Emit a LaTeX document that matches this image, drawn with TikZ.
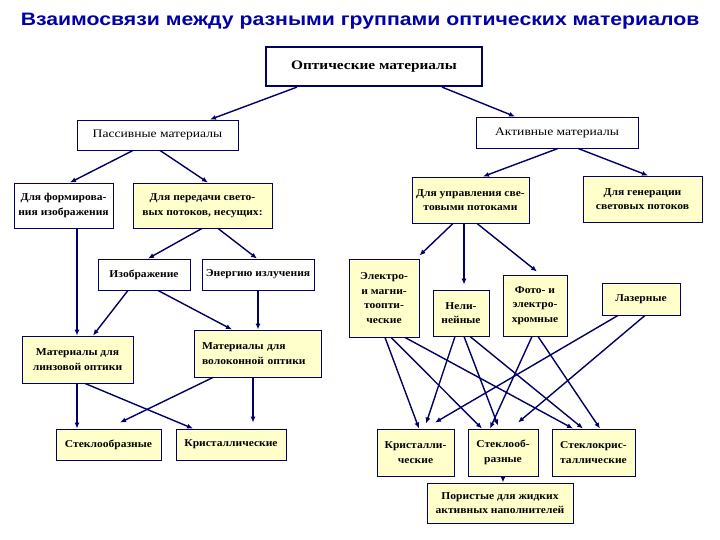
\documentclass[tikz,border=0pt]{standalone}
\usepackage{fontspec}
\setmainfont{Liberation Serif}
\setsansfont{Liberation Sans}
\newfontfamily\boxfont{Liberation Serif}[FakeStretch=1.1]
\newfontfamily\levelfont{Liberation Serif}[FakeStretch=1.18]
\newfontfamily\titlefont{Liberation Sans}[FakeStretch=1.18]
\usetikzlibrary{arrows.meta}
\definecolor{linknavy}{RGB}{0,0,102}
\definecolor{boxyellow}{RGB}{255,255,204}
\definecolor{titleblue}{RGB}{0,0,170}

\begin{document}
\begin{tikzpicture}[x=1pt, y=-1pt,
  box/.style={draw=linknavy, line width=0.9pt, fill=white, inner sep=1pt, align=center,
    font=\boxfont\bfseries\fontsize{10.5}{14.5}\selectfont},
  ybox/.style={box, fill=boxyellow},
  link/.style={linknavy, line width=1.4pt, -{Latex[length=6pt,width=5pt]}}]
  \useasboundingbox[fill=white] (0,0) rectangle (720,540);

  \node[font=\titlefont\bfseries\fontsize{18}{20}\selectfont, text=titleblue] (title) at (360,21)
    {Взаимосвязи между разными группами оптических материалов};

  % top levels
  \node[box, line width=2.2pt, minimum width=216pt, minimum height=39pt,
    font=\levelfont\bfseries\fontsize{13}{14}\selectfont] (opt) at (374,66.5) {Оптические материалы};
  \node[box, minimum width=161pt, minimum height=30pt, font=\levelfont\fontsize{11.5}{14}\selectfont]
    (pas) at (157.5,135) {Пассивные материалы};
  \node[box, minimum width=162pt, minimum height=31pt, font=\levelfont\fontsize{11.5}{14}\selectfont]
    (act) at (557,132.5) {Активные материалы};

  % passive branch
  \node[box, minimum width=99pt, minimum height=45pt] (form) at (63.5,205.5) {Для формирова-\\ния изображения};
  \node[ybox, minimum width=139pt, minimum height=45pt] (pered) at (202.5,205.5) {Для передачи свето-\\вых потоков, несущих:};
  \node[box, minimum width=92pt, minimum height=31pt] (izob) at (144,274.5) {Изображение};
  \node[box, minimum width=112pt, minimum height=31pt] (energ) at (258,274.5) {Энергию излучения};
  \node[ybox, minimum width=111pt, minimum height=47pt] (linz) at (77.5,359.5) {Материалы для\\линзовой оптики};
  \node[ybox, minimum width=127pt, minimum height=47pt, text width=111pt, align=left]
    (volok) at (257.5,353.5) {Материалы для\\волоконной оптики};
  \node[ybox, minimum width=105pt, minimum height=31pt] (steklo) at (108.5,444.5) {Стеклообразные};
  \node[ybox, minimum width=110pt, minimum height=31pt] (krist) at (231,444.5) {Кристаллические};

  % active branch
  \node[ybox, minimum width=117pt, minimum height=46pt] (upr) at (470.5,200) {Для управления све-\\товыми потоками};
  \node[ybox, minimum width=119pt, minimum height=46pt] (gen) at (642.5,199) {Для генерации\\световых потоков};
  \node[ybox, minimum width=70pt, minimum height=78pt] (elek) at (384,298) {Электро-\\и магни-\\тоопти-\\ческие};
  \node[ybox, minimum width=56pt, minimum height=46pt] (neli) at (461,313) {Нели-\\нейные};
  \node[ybox, minimum width=64pt, minimum height=61pt] (foto) at (535,305.5) {Фото- и\\электро-\\хромные};
  \node[ybox, minimum width=78pt, minimum height=32pt] (laz) at (641,299) {Лазерные};
  \node[ybox, minimum width=77pt, minimum height=47pt] (krR) at (415.5,452.5) {Кристалли-\\ческие};
  \node[ybox, minimum width=70pt, minimum height=47pt] (stR) at (503,452.5) {Стеклооб-\\разные};
  \node[ybox, minimum width=83pt, minimum height=47pt] (skR) at (593.5,452.5) {Стеклокрис-\\таллические};
  \node[ybox, minimum width=146pt, minimum height=40pt] (por) at (500,503) {Пористые для жидких\\активных наполнителей};

  % connectors
  \draw[link] ([xshift=-77pt]opt.south) -- ([xshift=52.5pt]pas.north);
  \draw[link] ([xshift=68pt]opt.south) -- ([xshift=-42pt]act.north);
  \draw[link] ([xshift=-24.5pt]pas.south) -- ([xshift=6.5pt]form.north);
  \draw[link] ([xshift=2.5pt]pas.south) -- ([xshift=5.5pt]pered.north);
  \draw[link] ([xshift=-0.5pt]pered.south) -- ([xshift=4pt]izob.north);
  \draw[link] ([xshift=15.5pt]pered.south) -- ([xshift=-1pt]energ.north);
  \draw[link] ([xshift=13.5pt]form.south) -- ([xshift=-0.5pt]linz.north);
  \draw[link] ([xshift=-16pt]izob.south) -- ([xshift=15.5pt]linz.north);
  \draw[link] ([xshift=14pt]izob.south) -- ([xshift=-25.5pt]volok.north);
  \draw[link] (energ.south) -- ([xshift=0.5pt]volok.north);
  \draw[link] ([xshift=-0.5pt]linz.south) -- ([xshift=-31.5pt]steklo.north);
  \draw[link] ([xshift=7.5pt]linz.south) -- ([xshift=-38pt]krist.north);
  \draw[link] ([xshift=-44.5pt]volok.south) -- ([xshift=11.5pt,yshift=6pt]steklo.north);
  \draw[link] ([xshift=-4.5pt]volok.south) -- ([xshift=22pt,yshift=6pt]krist.north);

  \draw[link] ([xshift=1pt]act.south) -- ([xshift=12.5pt]upr.north);
  \draw[link] ([xshift=21pt]act.south) -- ([xshift=5.5pt]gen.north);
  \draw[link] ([xshift=-17.5pt]upr.south) -- ([yshift=3pt]elek.north east);
  \draw[link] ([xshift=-6.5pt]upr.south) -- ([xshift=3pt,yshift=5pt]neli.north);
  \draw[link] ([xshift=6.5pt]upr.south) -- ([xshift=2pt,yshift=3pt]foto.north);
  \foreach \a/\sa/\b/\sb/\yb in {elek/1/krR/3.5/0, elek/7/stR/-21/0, elek/21/skR/-20.5/0,
      neli/-6/krR/10.5/5, neli/3/stR/-5/3, neli/9/skR/-10.5/0,
      foto/-3/stR/-13/0, foto/3/skR/6.5/0, laz/-23/krR/19.5/6, laz/4/stR/15/6}
    \draw[link] ([xshift=\sa pt]\a.south) -- ([xshift=\sb pt,yshift=\yb pt]\b.north);
  \draw[link] (stR.south) -- ([xshift=3pt]por.north);
\end{tikzpicture}
\end{document}
